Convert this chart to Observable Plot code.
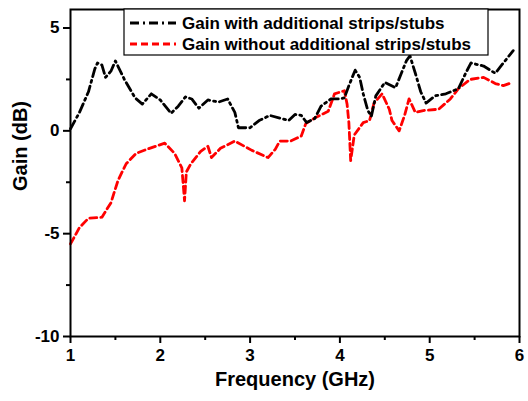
<!DOCTYPE html>
<html>
<head>
<meta charset="utf-8">
<script src="https://cdn.jsdelivr.net/npm/d3@7"></script>
<script src="https://cdn.jsdelivr.net/npm/@observablehq/plot@0.6"></script>
<style>
  html, body { margin: 0; padding: 0; background: #fff; }
  svg { display: block; }
</style>
</head>
<body>
<div id="chart"></div>
<script>
// Gain with additional strips/stubs (black dash-dot)
const withFreq = [1.0,1.1,1.2,1.27,1.3,1.35,1.39,1.45,1.5,1.6,1.72,1.8,1.9,2.0,2.12,2.2,2.28,2.35,2.43,2.53,2.65,2.75,2.83,2.87,3.0,3.1,3.22,3.35,3.43,3.5,3.57,3.63,3.72,3.79,3.9,4.0,4.05,4.1,4.17,4.22,4.26,4.31,4.35,4.4,4.5,4.62,4.68,4.74,4.78,4.84,4.9,4.96,5.06,5.18,5.32,5.4,5.46,5.6,5.73,5.82,5.93];
const withGain = [0.1,0.9,1.9,3.0,3.3,3.2,2.6,2.9,3.4,2.5,1.6,1.3,1.8,1.5,0.85,1.2,1.65,1.55,1.1,1.5,1.4,1.55,0.9,0.15,0.15,0.5,0.75,0.6,0.5,0.8,0.75,0.4,0.6,1.2,1.55,1.55,1.6,2.2,2.95,2.6,1.8,1.0,0.7,1.7,2.35,2.1,2.75,3.4,3.65,2.8,1.9,1.35,1.7,1.8,2.05,2.8,3.3,3.15,2.8,3.3,3.9];
// Gain without additional strips/stubs (red dashed)
const withoutFreq = [1.0,1.1,1.2,1.35,1.45,1.53,1.62,1.73,1.88,2.05,2.16,2.24,2.27,2.29,2.34,2.45,2.53,2.57,2.67,2.83,3.02,3.2,3.28,3.33,3.45,3.57,3.62,3.73,3.87,3.94,4.05,4.08,4.1,4.12,4.16,4.26,4.33,4.38,4.47,4.55,4.58,4.66,4.72,4.77,4.84,4.95,5.1,5.23,5.32,5.45,5.6,5.73,5.82,5.92];
const withoutGain = [-5.5,-4.7,-4.25,-4.2,-3.5,-2.4,-1.6,-1.1,-0.85,-0.6,-1.1,-1.8,-3.4,-2.0,-1.6,-1.0,-0.75,-1.3,-0.85,-0.5,-0.95,-1.3,-0.9,-0.5,-0.5,-0.25,0.35,0.65,0.95,1.8,1.95,1.3,0.4,-1.45,-0.2,0.4,0.5,1.35,1.8,1.05,0.5,0.0,0.75,1.55,0.9,1.0,1.05,1.55,2.05,2.5,2.6,2.3,2.2,2.35];

const xTicks = [1,2,3,4,5,6];
const xMinor = [1.5,2.5,3.5,4.5,5.5];
const yTicks = [-10,-5,0,5];
const yMinor = [-7.5,-2.5,2.5];
const seriesNames = ["Gain with additional strips/stubs", "Gain without additional strips/stubs"];
const seriesColors = ["#000000", "#ff0000"];
const seriesDash = ["9,4,2,4", "7,4"];

const withData = withFreq.map((f, i) => ({f, g: withGain[i]}));
const withoutData = withoutFreq.map((f, i) => ({f, g: withoutGain[i]}));

const font = "'Liberation Sans', Arial, sans-serif";
const fmt = d => String(d);

const plot = Plot.plot({
  width: 528,
  height: 401,
  marginLeft: 70,
  marginRight: 9,
  marginTop: 9,
  marginBottom: 65,
  style: {fontFamily: font, fontWeight: "bold", fontSize: "17px", color: "#000", background: "#fff"},
  x: {domain: [1, 6]},
  y: {domain: [-10, 5.9]},
  marks: [
    Plot.line(withoutData, {x: "f", y: "g", stroke: seriesColors[1], strokeWidth: 2.8, strokeDasharray: seriesDash[1], strokeLinejoin: "round"}),
    Plot.line(withData, {x: "f", y: "g", stroke: seriesColors[0], strokeWidth: 2.8, strokeDasharray: seriesDash[0], strokeLinejoin: "round"}),
    Plot.frame({stroke: "#000", strokeWidth: 2}),
    Plot.axisX({ticks: xTicks, tickSize: 7, tickPadding: 5, tickFormat: fmt, label: null, strokeWidth: 2, fontSize: 17, fontWeight: "bold"}),
    Plot.axisX({ticks: xMinor, tickSize: 4, tickFormat: () => "", label: null, strokeWidth: 2}),
    Plot.axisY({ticks: yTicks, tickSize: 7, tickPadding: 4, tickFormat: fmt, label: null, strokeWidth: 2, fontSize: 17, fontWeight: "bold"}),
    Plot.axisY({ticks: yMinor, tickSize: 4, tickFormat: () => "", label: null, strokeWidth: 2}),
    Plot.text(["Frequency (GHz)"], {frameAnchor: "bottom", dy: 49, fontSize: 20, fontWeight: "bold", text: d => d}),
    Plot.text(["Gain (dB)"], {frameAnchor: "left", dx: -50, dy: 18, rotate: -90, fontSize: 20, fontWeight: "bold", text: d => d})
  ]
});

// Legend
const svg = d3.select(plot);
const lg = svg.append("g").attr("text-anchor", "start");
lg.append("rect").attr("x", 124).attr("y", 9).attr("width", 364).attr("height", 46)
  .attr("fill", "#fff").attr("stroke", "#000").attr("stroke-width", 1.2);
seriesNames.forEach((name, i) => {
  const yy = 23 + i * 21;
  lg.append("line").attr("x1", 130).attr("x2", 176).attr("y1", yy).attr("y2", yy)
    .attr("stroke", seriesColors[i]).attr("stroke-width", 2.8).attr("stroke-dasharray", seriesDash[i]);
  lg.append("text").attr("x", 182).attr("y", yy).attr("dy", "0.35em")
    .attr("text-anchor", "start")
    .attr("font-family", font).attr("font-weight", "bold").attr("font-size", 17)
    .attr("fill", "#000").text(name);
});

document.getElementById("chart").appendChild(plot);
</script>
</body>
</html>
